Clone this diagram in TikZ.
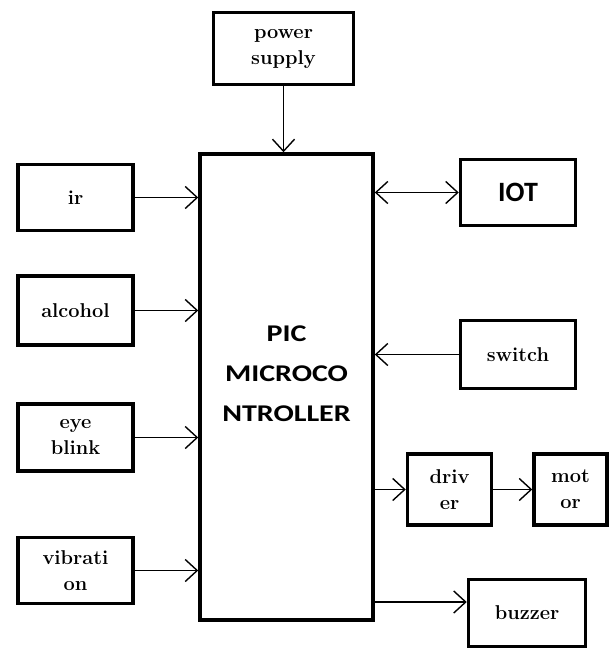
\documentclass[tikz,border=0pt]{standalone}
\usepackage{fontspec}
\newfontfamily\calibrifont{Carlito}
\newfontfamily\calibriwide[FakeStretch=1.25]{Carlito}
\usetikzlibrary{arrows.meta,positioning,calc}

\begin{document}
\begin{tikzpicture}[
  x=1pt, y=-1pt,
  font=\fontsize{20}{26}\selectfont\bfseries,
  box/.style={draw, line width=3.5pt, align=center, inner sep=2pt,
    minimum width=115pt, minimum height=66pt},
  flow/.style={-{Straight Barb[length=12pt, width=22pt]}, line width=1.4pt},
]
  \useasboundingbox[fill=white] (0,0) rectangle (611,652);

  % controller in the middle
  \node[box, minimum width=173pt, minimum height=466pt] (pic) at (286.5,387) {};
  \node[align=center, font=\calibriwide\fontsize{24}{40}\selectfont\bfseries]
    (pictext) at ([yshift=13pt]pic.center) {PIC\\MICROCO\\NTROLLER};
  \node[box, minimum width=140pt, minimum height=72pt] (power) at (283.5,48.5)
    {power\\supply};

  % inputs
  \node[box] (ir) at (75.5,197.5) {ir};
  \node[box, minimum height=69pt] (alcohol) at (75.5,310.5) {alcohol};
  \node[box, minimum height=67pt] (eye) at (75.5,437.5) {eye\\blink};
  \node[box] (vib) at (75.5,570.5) {vibrati\\on};

  % right side
  \node[box, minimum height=66pt, font=\calibrifont\fontsize{28}{28}\selectfont\bfseries]
    (iot) at (518,192.5) {IOT};
  \node[box, minimum height=68pt] (switch) at (518,354.5) {switch};
  \node[box, minimum width=84pt, minimum height=71pt] (driver) at (449.5,489.5) {driv\\er};
  \node[box, minimum width=73pt, minimum height=71pt, right=39pt of driver] (motor) {mot\\or};
  \node[box, minimum width=117pt, minimum height=67pt] (buzzer) at (527,613) {buzzer};

  \draw[flow] (power.south) -- (power.south |- pic.north);
  \foreach \src in {ir, alcohol, eye, vib}
    \draw[flow] (\src.east) -- (\src.east -| pic.west);
  \draw[flow, {Straight Barb[length=12pt, width=22pt]}-{Straight Barb[length=12pt, width=22pt]}]
    (iot.west -| pic.east) -- (iot.west);
  \draw[flow] (switch.west) -- (switch.west -| pic.east);
  \draw[flow] (driver.west -| pic.east) -- (driver.west);
  \draw[flow] (driver.east) -- (motor.west);
  \draw[flow] ([yshift=11pt]buzzer.west -| pic.east) -- ([yshift=11pt]buzzer.west);
\end{tikzpicture}
\end{document}
